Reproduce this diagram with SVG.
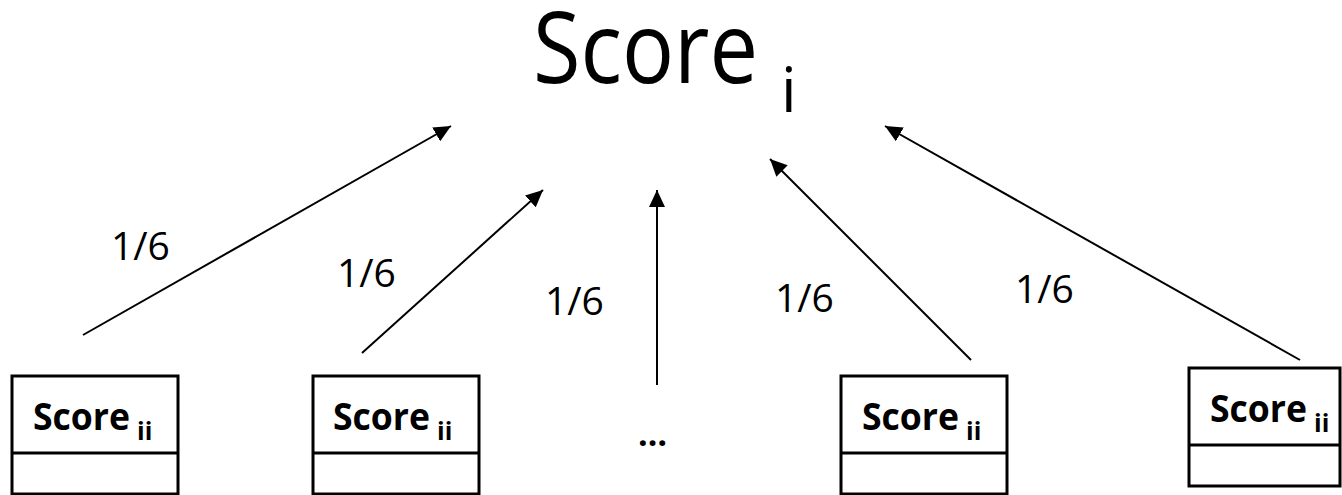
<svg xmlns="http://www.w3.org/2000/svg" width="1342" height="495" viewBox="0 0 1342 495">
<style>
.box{fill:#fff;stroke:#000;stroke-width:3}
.div{stroke:#000;stroke-width:3}
.bt{font-family:"Open Sans","Liberation Sans",sans-serif;font-weight:bold;font-size:38px;fill:#000}
.bs{font-size:25px}
.lbl{font-family:"Open Sans","Liberation Sans",sans-serif;font-size:39px;fill:#000}
.con{stroke:#000;stroke-width:2;fill:none;marker-end:url(#ah)}
</style>
<defs>
<marker id="ah" markerUnits="userSpaceOnUse" markerWidth="18" markerHeight="16" refX="17" refY="8" orient="auto">
<path d="M0,0 L17,8 L0,16 Z" fill="#000"/>
</marker>
</defs>
<rect width="1342" height="495" fill="#fff"/>
<g id="title">
<text x="533" y="83" font-family="'Open Sans','Liberation Sans',sans-serif" font-size="98"><tspan textLength="225" lengthAdjust="spacingAndGlyphs">Score</tspan><tspan x="781" y="112" font-size="62">i</tspan></text>
</g>
<g id="connectors">
<line class="con" x1="83" y1="335" x2="451" y2="126"/>
<line class="con" x1="362" y1="353" x2="543" y2="190"/>
<line class="con" x1="657" y1="385" x2="657" y2="190"/>
<line class="con" x1="971" y1="360" x2="770" y2="159"/>
<line class="con" x1="1300" y1="360" x2="885" y2="126"/>
</g>
<g id="labels">
<text class="lbl" x="111" y="260">1/6</text>
<text class="lbl" x="337" y="287">1/6</text>
<text class="lbl" x="545" y="315">1/6</text>
<text class="lbl" x="775" y="312">1/6</text>
<text class="lbl" x="1015" y="303">1/6</text>
</g>
<g id="node1">
<rect class="box" x="12" y="376" width="166" height="118"/>
<line class="div" x1="12" y1="453" x2="178" y2="453"/>
<text class="bt" x="33" y="430"><tspan textLength="97" lengthAdjust="spacingAndGlyphs">Score</tspan><tspan class="bs" x="137" y="440">ii</tspan></text>
</g>
<g id="node2">
<rect class="box" x="313" y="376" width="166" height="118"/>
<line class="div" x1="313" y1="453" x2="479" y2="453"/>
<text class="bt" x="333" y="430"><tspan textLength="97" lengthAdjust="spacingAndGlyphs">Score</tspan><tspan class="bs" x="437" y="440">ii</tspan></text>
</g>
<g id="ellipsis">
<text x="638" y="446" font-family="'Open Sans','Liberation Sans',sans-serif" font-size="34" font-weight="bold">…</text>
</g>
<g id="node3">
<rect class="box" x="841" y="376" width="166" height="118"/>
<line class="div" x1="841" y1="453" x2="1007" y2="453"/>
<text class="bt" x="862" y="430"><tspan textLength="97" lengthAdjust="spacingAndGlyphs">Score</tspan><tspan class="bs" x="966" y="440">ii</tspan></text>
</g>
<g id="node4">
<rect class="box" x="1189" y="368" width="151" height="118"/>
<line class="div" x1="1189" y1="445" x2="1340" y2="445"/>
<text class="bt" x="1210" y="422"><tspan textLength="97" lengthAdjust="spacingAndGlyphs">Score</tspan><tspan class="bs" x="1314" y="432">ii</tspan></text>
</g>
</svg>
